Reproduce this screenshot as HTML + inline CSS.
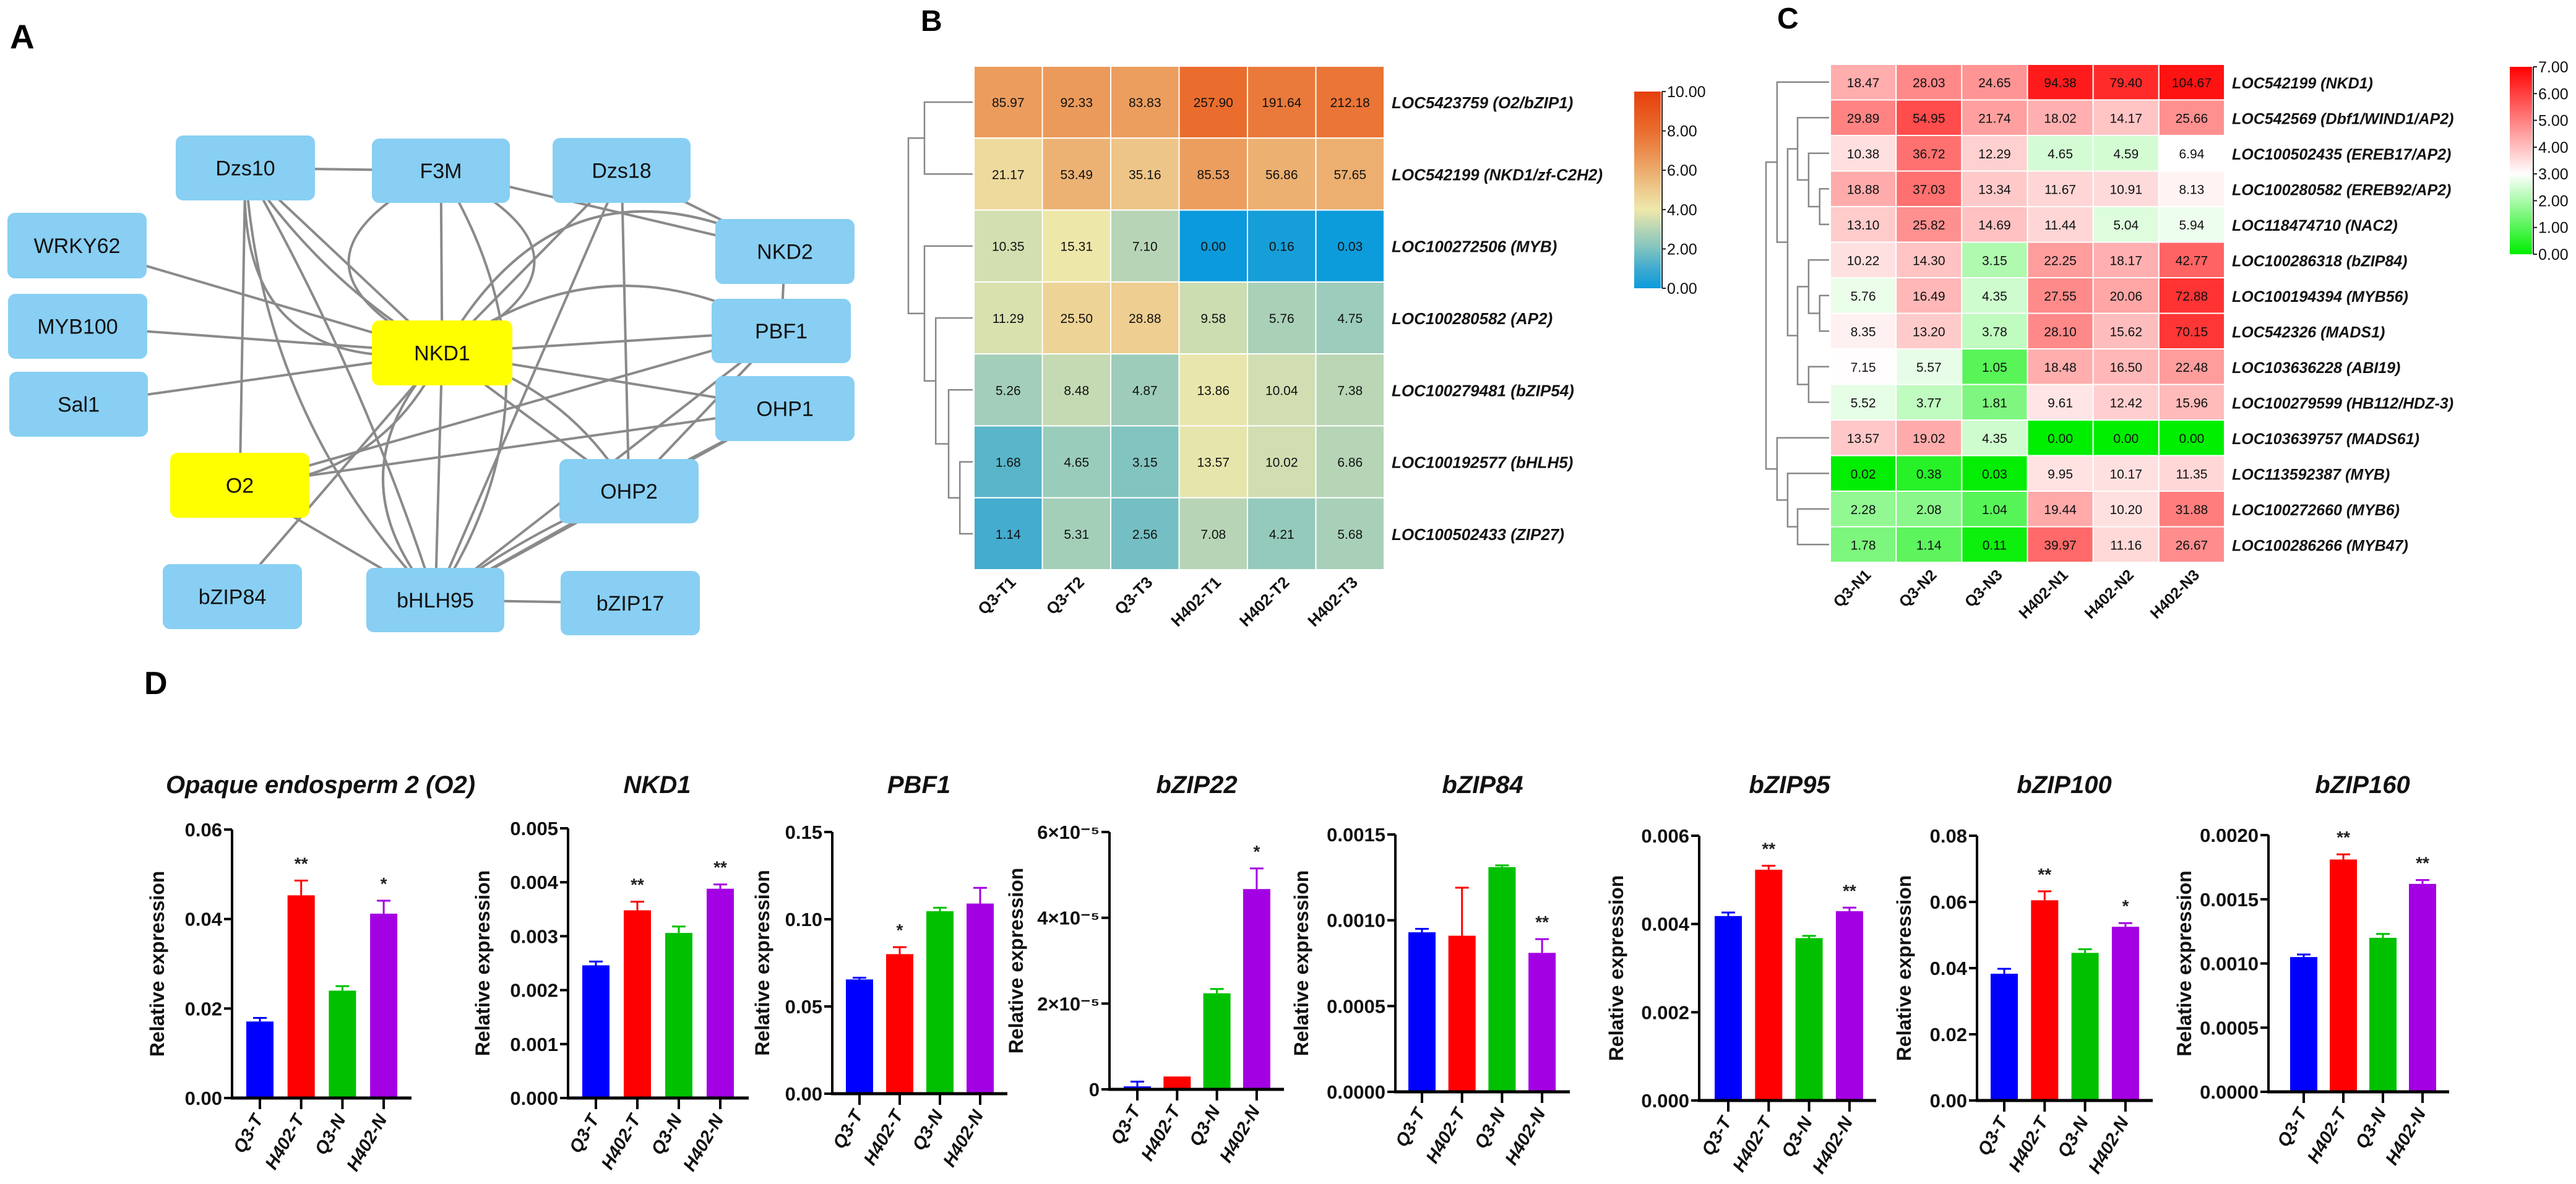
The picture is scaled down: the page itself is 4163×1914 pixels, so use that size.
<!DOCTYPE html>
<html><head><meta charset="utf-8"><style>
html,body{margin:0;padding:0;background:#fff;}
svg{display:block;font-family:"Liberation Sans",Arial,sans-serif;}
</style></head><body>
<svg id="fig" xmlns="http://www.w3.org/2000/svg" width="4163" height="1914" viewBox="0 0 4163 1914">
<defs>
<linearGradient id="gradB" x1="0" y1="1" x2="0" y2="0">
<stop offset="0" stop-color="#0b9bdc"/><stop offset="0.1" stop-color="#3eaad0"/><stop offset="0.2" stop-color="#7fc3c0"/><stop offset="0.3" stop-color="#b6d5b6"/><stop offset="0.4" stop-color="#eee8ab"/><stop offset="0.5" stop-color="#eecb8e"/><stop offset="0.6" stop-color="#ecab6c"/><stop offset="0.8" stop-color="#ea6d2e"/><stop offset="1" stop-color="#e63f0c"/>
</linearGradient>
<linearGradient id="gradC" x1="0" y1="1" x2="0" y2="0">
<stop offset="0" stop-color="#00ee00"/><stop offset="0.4286" stop-color="#ffffff"/><stop offset="1" stop-color="#ff0000"/>
</linearGradient>
</defs>
<text x="16" y="78" font-size="55" font-weight="bold">A</text>
<text x="1488" y="50" font-size="48" font-weight="bold">B</text>
<text x="2872" y="46" font-size="48" font-weight="bold">C</text>
<text x="233" y="1122" font-size="52" font-weight="bold">D</text>
<g id="net"></g>
<g id="hmB"></g>
<g id="hmC"></g>
<g id="bars"></g>
</svg>
<script>
// ---------- Heatmap B data ----------
const bRowLabels=['LOC5423759 (O2/bZIP1)','LOC542199 (NKD1/zf-C2H2)','LOC100272506 (MYB)','LOC100280582 (AP2)','LOC100279481 (bZIP54)','LOC100192577 (bHLH5)','LOC100502433 (ZIP27)'];
const bColLabels=['Q3-T1','Q3-T2','Q3-T3','H402-T1','H402-T2','H402-T3'];
const bValues=[[85.97,92.33,83.83,257.90,191.64,212.18],[21.17,53.49,35.16,85.53,56.86,57.65],[10.35,15.31,7.10,0.00,0.16,0.03],[11.29,25.50,28.88,9.58,5.76,4.75],[5.26,8.48,4.87,13.86,10.04,7.38],[1.68,4.65,3.15,13.57,10.02,6.86],[1.14,5.31,2.56,7.08,4.21,5.68]];
const bScaleTicks=['0.00','2.00','4.00','6.00','8.00','10.00'];
const bTree={h:4,l:{h:3,l:0,r:1},r:{h:3,l:2,r:{h:2.3,l:3,r:{h:1.5,l:4,r:{h:0.8,l:5,r:6}}}}};
// ---------- Heatmap C data ----------
const cRowLabels=['LOC542199 (NKD1)','LOC542569 (Dbf1/WIND1/AP2)','LOC100502435 (EREB17/AP2)','LOC100280582 (EREB92/AP2)','LOC118474710 (NAC2)','LOC100286318 (bZIP84)','LOC100194394 (MYB56)','LOC542326 (MADS1)','LOC103636228 (ABI19)','LOC100279599 (HB112/HDZ-3)','LOC103639757 (MADS61)','LOC113592387 (MYB)','LOC100272660 (MYB6)','LOC100286266 (MYB47)'];
const cColLabels=['Q3-N1','Q3-N2','Q3-N3','H402-N1','H402-N2','H402-N3'];
const cValues=[[18.47,28.03,24.65,94.38,79.40,104.67],[29.89,54.95,21.74,18.02,14.17,25.66],[10.38,36.72,12.29,4.65,4.59,6.94],[18.88,37.03,13.34,11.67,10.91,8.13],[13.10,25.82,14.69,11.44,5.04,5.94],[10.22,14.30,3.15,22.25,18.17,42.77],[5.76,16.49,4.35,27.55,20.06,72.88],[8.35,13.20,3.78,28.10,15.62,70.15],[7.15,5.57,1.05,18.48,16.50,22.48],[5.52,3.77,1.81,9.61,12.42,15.96],[13.57,19.02,4.35,0.00,0.00,0.00],[0.02,0.38,0.03,9.95,10.17,11.35],[2.28,2.08,1.04,19.44,10.20,31.88],[1.78,1.14,0.11,39.97,11.16,26.67]];
const cScaleTicks=['0.00','1.00','2.00','3.00','4.00','5.00','6.00','7.00'];
const cTree={h:4,l:{h:3.3,l:0,r:{h:2.63,l:{h:2,l:1,r:{h:1.3,l:2,r:{h:0.6,l:3,r:4}}},r:{h:2,l:{h:1.3,l:5,r:{h:0.6,l:6,r:7}},r:{h:1.3,l:8,r:9}}}},r:{h:3.3,l:10,r:{h:2.63,l:11,r:{h:2,l:12,r:13}}}};
// ---------- Bar chart data ----------
const barGroups=['Q3-T','H402-T','Q3-N','H402-N'];
const barTitles=['Opaque endosperm 2 (O2)','NKD1','PBF1','bZIP22','bZIP84','bZIP95','bZIP100','bZIP160'];
const valO2=[0.0171,0.0453,0.0240,0.0412];
const errO2=[0.0008,0.0033,0.0010,0.0029];
const valNKD1=[0.00246,0.00348,0.00306,0.00388];
const errNKD1=[0.00007,0.00016,0.00012,0.00008];
const valPBF1=[0.0655,0.080,0.1046,0.109];
const errPBF1=[0.001,0.004,0.002,0.009];
const valBZIP22=[0.07e-5,0.30e-5,2.24e-5,4.67e-5];
const errBZIP22=[0.11e-5,0,0.10e-5,0.48e-5];
const valBZIP84=[0.00093,0.00091,0.00131,0.00081];
const errBZIP84=[0.00002,0.00028,0.00001,0.00008];
const valBZIP95=[0.00418,0.00523,0.00368,0.00429];
const errBZIP95=[0.00008,0.00009,0.00005,0.00008];
const valBZIP100=[0.0383,0.0605,0.0446,0.0525];
const errBZIP100=[0.0015,0.0027,0.0011,0.0011];
const valBZIP160=[0.00105,0.00181,0.00120,0.00162];
const errBZIP160=[0.00002,0.00004,0.00003,0.00003];
const barStars=[['','**','','*'],['','**','','**'],['','*','',''],['','','','*'],['','','','**'],['','**','','**'],['','**','','*'],['','**','','**']];
const yMaxes=[0.06,0.005,0.15,6e-5,0.0015,0.006,0.08,0.002];
const tickO2=['0.00','0.02','0.04','0.06'];
const tickNKD1=['0.000','0.001','0.002','0.003','0.004','0.005'];
const tickPBF1=['0.00','0.05','0.10','0.15'];
const tickBZIP22=['0','2×10⁻⁵','4×10⁻⁵','6×10⁻⁵'];
const tickBZIP84=['0.0000','0.0005','0.0010','0.0015'];
const tickBZIP95=['0.000','0.002','0.004','0.006'];
const tickBZIP100=['0.00','0.02','0.04','0.06','0.08'];
const tickBZIP160=['0.0000','0.0005','0.0010','0.0015','0.0020'];

const NS='http://www.w3.org/2000/svg';
function mk(tag,attrs,parent){const e=document.createElementNS(NS,tag);for(const k in attrs)e.setAttribute(k,attrs[k]);parent.appendChild(e);return e;}

// ---------- Network (panel A) ----------
(function(){
const g=document.getElementById('net');
const nodes={Dzs10:[284,219,509,324,0],F3M:[601,224,824,328,0],Dzs18:[893,223,1116,328,0],WRKY62:[12,344,237,450,0],MYB100:[13,475,238,580,0],Sal1:[15,601,239,706,0],NKD1:[601,518,828,623,1],NKD2:[1156,354,1381,459,0],PBF1:[1150,483,1375,587,0],OHP1:[1156,608,1381,713,0],O2:[275,732,500,837,1],OHP2:[904,742,1129,846,0],bZIP84:[263,912,488,1017,0],bHLH95:[592,918,815,1022,0],bZIP17:[906,923,1131,1027,0]};
const edges=[['Dzs10','F3M',0],['F3M','NKD2',0],['Dzs18','NKD2',0],['WRKY62','NKD1',0],['MYB100','NKD1',0],['Sal1','NKD1',0],['NKD1','PBF1',0],['NKD1','OHP1',0],['Dzs10','NKD1',0],['Dzs10','NKD1',25],['Dzs10','O2',0],['Dzs10','bHLH95',70],['Dzs10','bHLH95',-20],['Dzs10','NKD1',130],['F3M','NKD1',0],['F3M','NKD1',150],['F3M','NKD1',-150],['Dzs18','NKD1',0],['Dzs18','bHLH95',0],['Dzs18','OHP2',0],['NKD2','PBF1',0],['NKD1','NKD2',-140],['NKD1','PBF1',-90],['PBF1','O2',0],['OHP1','O2',0],['OHP1','bHLH95',0],['PBF1','OHP2',0],['PBF1','bHLH95',0],['NKD1','bHLH95',0],['NKD1','bHLH95',90],['NKD1','OHP2',0],['NKD1','OHP2',-40],['bZIP84','NKD1',0],['O2','bHLH95',0],['OHP2','bHLH95',0],['OHP2','bHLH95',12],['bHLH95','bZIP17',0],['OHP1','OHP2',0],['F3M','bHLH95',-110],['O2','NKD1',60]];
const ctr=n=>[(nodes[n][0]+nodes[n][2])/2,(nodes[n][1]+nodes[n][3])/2];
edges.forEach(([a,b,bend])=>{
 const [x1,y1]=ctr(a),[x2,y2]=ctr(b);
 const mx=(x1+x2)/2,my=(y1+y2)/2,dx=x2-x1,dy=y2-y1,L=Math.hypot(dx,dy);
 const cx=mx-dy/L*bend*2,cy=my+dx/L*bend*2;
 const p=mk('path',{d:`M${x1},${y1} Q${cx},${cy} ${x2},${y2}`,fill:'none',stroke:'#8a8a8a','stroke-width':4},g);
 
 
});
for(const n in nodes){
 const [x1,y1,x2,y2,hl]=nodes[n];
 const r=mk('rect',{x:x1,y:y1,width:x2-x1,height:y2-y1,rx:12,fill:hl?'#ffff00':'#88cff3'},g);
 
 
 const t=mk('text',{x:(x1+x2)/2,y:(y1+y2)/2+12,'text-anchor':'middle','font-size':34,fill:'#111'},g);
 t.textContent=n;
 
 
}
})();

// ---------- Heatmaps ----------
function interp(stops,t){
 for(let i=0;i<stops.length-1;i++){const a=stops[i],b=stops[i+1];if(t<=b[0]){const f=(t-a[0])/(b[0]-a[0]);return 'rgb('+[1,2,3].map(k=>Math.round(a[k]+(b[k]-a[k])*f)).join(',')+')';}}
 const l=stops[stops.length-1];return `rgb(${l[1]},${l[2]},${l[3]})`;
}
const stopsB=[[0,11,155,220],[1,62,170,208],[2,127,195,192],[3,182,213,182],[4,238,232,171],[5,238,203,142],[6,236,171,108],[8,234,109,46],[10,230,63,12]];
const stopsC=[[0,0,238,0],[3,255,255,255],[7,255,0,0]];
function drawHeat(gid,rows,cols,vals,stops,vmax,box,fonts,tree,treeX0,treeK,scale,ticks,grad,prefix){
 const g=document.getElementById(gid);
 const [x0,y0,x1,y1]=box,cw=(x1-x0)/cols.length,rh=(y1-y0)/rows.length;
 vals.forEach((row,i)=>row.forEach((v,j)=>{
  const t=Math.min(vmax,Math.log2(v+1));
  const r=mk('rect',{x:x0+j*cw,y:y0+i*rh,width:cw,height:rh,fill:interp(stops,t),stroke:'#fff','stroke-width':2},g);
  
  
  const tx=mk('text',{x:x0+(j+0.5)*cw,y:y0+(i+0.5)*rh+8,'text-anchor':'middle','font-size':fonts[0],fill:'#111'},g);
  tx.textContent=v.toFixed(2);
  
  
 }));
 rows.forEach((lab,i)=>{
  const t=mk('text',{x:x1+12,y:y0+(i+0.5)*rh+10,'font-size':fonts[1],'font-weight':'bold','font-style':'italic',fill:'#111'},g);
  t.textContent=lab;
  
  
 });
 cols.forEach((lab,j)=>{
  const cx=x0+(j+0.5)*cw+14,cy=y1+22;
  const t=mk('text',{x:cx,y:cy,'text-anchor':'end','font-size':fonts[2],'font-weight':'bold',fill:'#111',transform:`rotate(-45 ${cx} ${cy})`},g);
  t.textContent=lab;
  
  
 });
 function walk(n){
  if(typeof n==='number')return {x:x0-2,y:y0+(n+0.5)*rh};
  const a=walk(n.l),b=walk(n.r),x=treeX0-n.h*treeK;
  const p=mk('path',{d:`M${a.x},${a.y} H${x} V${b.y} H${b.x}`,fill:'none',stroke:'#888','stroke-width':2.5},g);
  
  
  return {x:x,y:(a.y+b.y)/2};
 }
 walk(tree);
 const [sx,sy0,sw,sy1]=scale;
 const cb=mk('rect',{x:sx,y:sy0,width:sw,height:sy1-sy0,fill:`url(#${grad})`},g);
 
 
 mk('line',{x1:sx+sw+2,y1:sy0,x2:sx+sw+2,y2:sy1,stroke:'#222','stroke-width':2},g);
 ticks.forEach((tk,i)=>{
  const y=sy1-(sy1-sy0)*i/(ticks.length-1);
  mk('line',{x1:sx+sw+2,y1:y,x2:sx+sw+8,y2:y,stroke:'#222','stroke-width':2},g);
  const t=mk('text',{x:sx+sw+10,y:y+9,'font-size':fonts[3],fill:'#111'},g);
  t.textContent=tk;
  
  
 });
}
drawHeat('hmB',bRowLabels,bColLabels,bValues,stopsB,10,[1574,107,2237,921],[21,26,26,25],bTree,1572,26,[2641,148,43,466],bScaleTicks,'gradB','heatmap-b');
drawHeat('hmC',cRowLabels,cColLabels,cValues,stopsC,7,[2958,104,3595,909],[21,25,25,25],cTree,2956,25.5,[4056,108,36,411],cScaleTicks,'gradC','heatmap-c');

// ---------- Bar charts ----------
(function(){
const g=document.getElementById('bars');
const vals=[valO2,valNKD1,valPBF1,valBZIP22,valBZIP84,valBZIP95,valBZIP100,valBZIP160];
const errs=[errO2,errNKD1,errPBF1,errBZIP22,errBZIP84,errBZIP95,errBZIP100,errBZIP160];
const ticks=[tickO2,tickNKD1,tickPBF1,tickBZIP22,tickBZIP84,tickBZIP95,tickBZIP100,tickBZIP160];
const colors=['#0000ff','#ff0000','#00c000','#a400e4'];
// layout: axisX, topY, baseY, firstBarCenter, step, axisEnd, titleX, yTitleX
const layout=[[375,1341,1775,420,66.7,665,518,254],[918,1339,1775,963,67,1210,1062,780],[1345,1345,1768,1389,65,1628,1485,1232],[1793,1345,1761,1838,64.3,2075,1934,1642],[2255,1349,1765,2298,64.7,2537,2396,2103],[2746,1351,1779,2793,65.3,3032,2892,2612],[3195,1351,1779,3239,65.3,3479,3336,3077],[3666,1350,1765,3723,64,3958,3818,3530]];
vals.forEach((vs,c)=>{
 const [ax,top,base,c0,step,end,tx,ytx]=layout[c];
 const ymax=yMaxes[c];
 const Y=v=>base-(base-top)*v/ymax;
 const title=mk('text',{x:tx,y:1282,'text-anchor':'middle','font-size':40,'font-weight':'bold','font-style':'italic',fill:'#111'},g);
 title.textContent=barTitles[c];
 
 
 const yt=mk('text',{x:ytx,y:(top+base)/2,'text-anchor':'middle','font-size':32,'font-weight':'bold',fill:'#111',transform:`rotate(-90 ${ytx} ${(top+base)/2})`,dy:11},g);
 yt.textContent='Relative expression';
 
 
 vs.forEach((v,i)=>{
  const cx=c0+i*step,w=44;
  const e=v+errs[c][i];
  if(errs[c][i]>0){
   mk('line',{x1:cx,y1:Y(v),x2:cx,y2:Y(e),stroke:colors[i],'stroke-width':3},g);
   mk('line',{x1:cx-11,y1:Y(e),x2:cx+11,y2:Y(e),stroke:colors[i],'stroke-width':3},g);
  }
  const r=mk('rect',{x:cx-w/2,y:Y(v),width:w,height:base-Y(v),fill:colors[i]},g);
  
  
  if(barStars[c][i]){
   const s=mk('text',{x:cx,y:Y(e)-18,'text-anchor':'middle','font-size':28,'font-weight':'bold',fill:'#222'},g);
   s.textContent=barStars[c][i];
   
   
  }
  mk('line',{x1:cx,y1:base,x2:cx,y2:base+18,stroke:'#000','stroke-width':4},g);
  const lx=cx+6,ly=base+34;
  const xl=mk('text',{x:lx,y:ly,'text-anchor':'end','font-size':29,'font-weight':'bold','font-style':'italic',fill:'#111',transform:`rotate(-60 ${lx} ${ly})`},g);
  xl.textContent=barGroups[i];
  
  
 });
 mk('line',{x1:ax,y1:top,x2:ax,y2:base+2,stroke:'#000','stroke-width':4},g);
 mk('line',{x1:ax-2,y1:base,x2:end,y2:base,stroke:'#000','stroke-width':5},g);
 ticks[c].forEach((tk,i)=>{
  const y=base-(base-top)*i/(ticks[c].length-1);
  mk('line',{x1:ax-13,y1:y,x2:ax,y2:y,stroke:'#000','stroke-width':4},g);
  const t=mk('text',{x:ax-16,y:y+11,'text-anchor':'end','font-size':31,'font-weight':'bold',fill:'#111'},g);
  t.textContent=tk;
  
  
 });
});
})();
</script>
</body></html>
